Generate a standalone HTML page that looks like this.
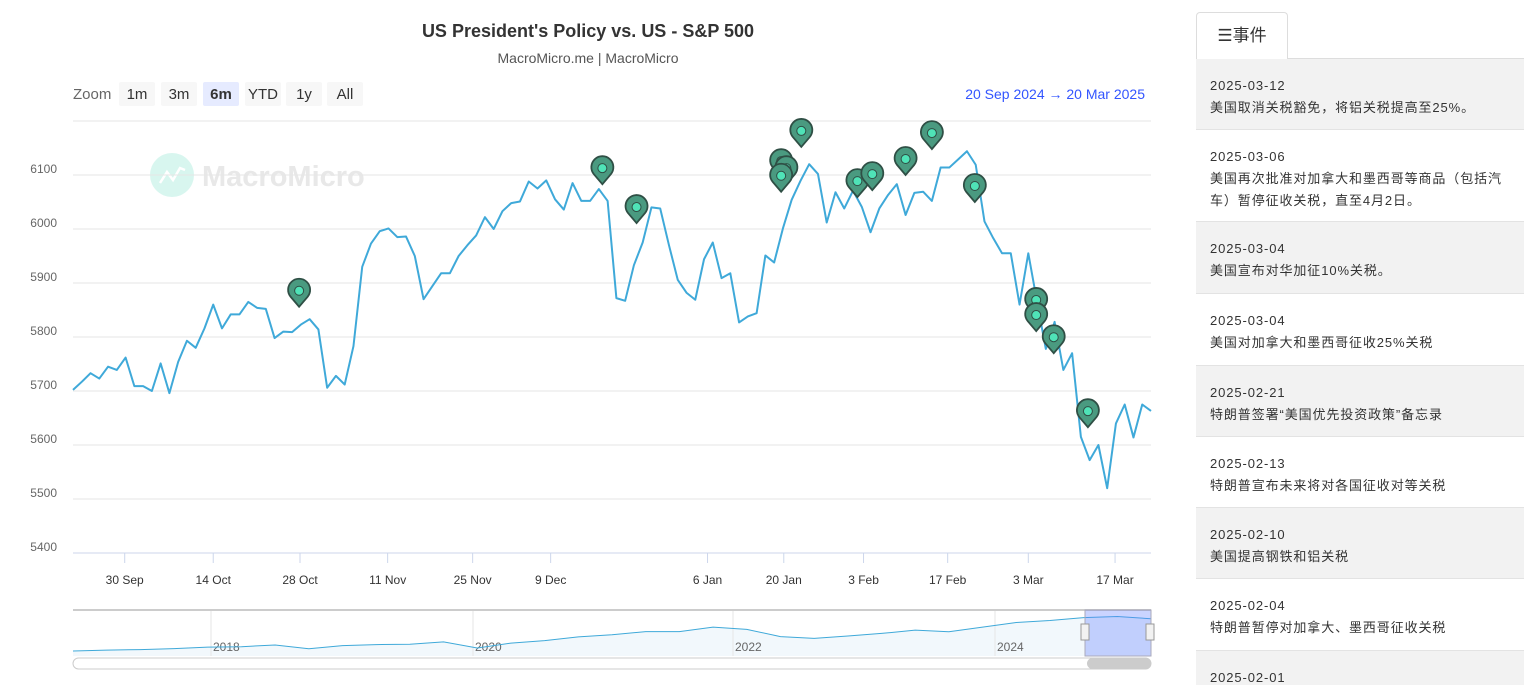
<!DOCTYPE html>
<html><head><meta charset="utf-8">
<style>
html,body{margin:0;width:1524px;height:685px;overflow:hidden;background:#fff;font-family:"Liberation Sans","Noto Sans CJK SC",sans-serif;}
#chart{position:absolute;left:0;top:0;}
#panel{position:absolute;left:1196px;top:0;width:328px;height:685px;overflow:hidden;}
.tab{position:absolute;left:0;top:12px;width:90px;height:46px;border:1px solid #ddd;border-bottom:none;border-radius:4px 4px 0 0;background:#fff;font-size:17px;color:#333;line-height:46px;text-align:center;}
.line{position:absolute;left:0;top:58px;width:328px;border-top:1px solid #ddd;}
.item{position:absolute;left:0;width:328px;border-bottom:1px solid #e3e3e3;box-sizing:border-box;padding:16px 14px 0 14px;font-size:13px;color:#333;line-height:22px;letter-spacing:0.9px;overflow:hidden;}
.item.g{background:#f2f2f2;}
</style></head><body>
<svg id="chart" width="1190" height="685" font-family="Liberation Sans, sans-serif"></svg>
<div id="panel">
<div class="line"></div>
<div class="tab">☰事件</div>
<div class="item g" style="top:59px;height:71px">2025-03-12<br>美国取消关税豁免，将铝关税提高至25%。</div>
<div class="item" style="top:130px;height:92px">2025-03-06<br>美国再次批准对加拿大和墨西哥等商品（包括汽车）暂停征收关税，直至4月2日。</div>
<div class="item g" style="top:222px;height:72px">2025-03-04<br>美国宣布对华加征10%关税。</div>
<div class="item" style="top:294px;height:72px">2025-03-04<br>美国对加拿大和墨西哥征收25%关税</div>
<div class="item g" style="top:366px;height:71px">2025-02-21<br>特朗普签署“美国优先投资政策”备忘录</div>
<div class="item" style="top:437px;height:71px">2025-02-13<br>特朗普宣布未来将对各国征收对等关税</div>
<div class="item g" style="top:508px;height:71px">2025-02-10<br>美国提高钢铁和铝关税</div>
<div class="item" style="top:579px;height:72px">2025-02-04<br>特朗普暂停对加拿大、墨西哥征收关税</div>
<div class="item g" style="top:651px;height:34px;border-bottom:none">2025-02-01</div>
</div>
<script>
const values=[5702,5717,5733,5723,5745,5739,5762,5709,5709,5700,5751,5696,5754,5793,5780,5816,5860,5816,5842,5842,5865,5854,5852,5798,5810,5809,5823,5833,5814,5706,5728,5712,5783,5930,5973,5996,6001,5985,5986,5950,5870,5894,5918,5918,5950,5970,5988,6022,6000,6033,6048,6051,6088,6075,6090,6055,6036,6085,6052,6052,6074,6052,
5872,5867,5933,5975,6040,6038,5970,5906,5882,5869,5944,5975,5909,5918,5827,5838,5844,5951,5938,6001,6054,6089,6120,6102,6012,6068,6038,6071,6041,5994,6038,6063,6083,6026,6067,6069,6052,6114,6114,6129,6144,6119,6014,5983,5955,5955,5860,5955,5865,5778,5828,5739,5770,5615,5572,5600,5520,5640,5675,5614,5675,5663];
const yTicks=[5400,5500,5600,5700,5800,5900,6000,6100,6200];
const xTickLabels=['30 Sep','14 Oct','28 Oct','11 Nov','25 Nov','9 Dec','6 Jan','20 Jan','3 Feb','17 Feb','3 Mar','17 Mar'];
const xTickIdx=[5.9,16,25.9,35.9,45.6,54.5,72.4,81.1,90.2,99.8,109,118.9];
const eventIdx=[25.8,60.4,64.3,80.8,81.4,80.8,83.1,89.5,91.2,95.0,98.0,102.9,109.9,109.9,111.9,115.8];
const eventVal=[5856,6083,6011,6096,6083,6069,6152,6059,6072,6100,6148,6050,5839,5811,5770,5633];
const navYears=['2018','2020','2022','2024'];
const navValues=[2270,2360,2420,2520,2670,2720,2900,2500,2830,2940,2980,3230,2580,3100,3360,3750,3970,4300,4300,4770,4530,3780,3590,3840,4110,4450,4290,4770,5250,5460,5760,5880,5650];

const S='http://www.w3.org/2000/svg';
const svg=document.getElementById('chart');
function el(t,a,p){const e=document.createElementNS(S,t);for(const k in a)e.setAttribute(k,a[k]);(p||svg).appendChild(e);return e;}
const X0=73,X1=1151;
const x=i=>X0+i*(X1-X0)/(values.length-1);
const y=v=>175+(6100-v)*0.54;

let t=el('text',{x:588,y:37,'text-anchor':'middle','font-size':18,'font-weight':'bold',fill:'#333'});t.textContent="US President's Policy vs. US - S&P 500";

t=el('text',{x:588,y:63,'text-anchor':'middle','font-size':14,fill:'#555'});t.textContent='MacroMicro.me | MacroMicro';

t=el('text',{x:73,y:99,'font-size':15,fill:'#666'});t.textContent='Zoom';

const btns=[['1m',119],['3m',161],['6m',203],['YTD',245],['1y',286],['All',327]];
btns.forEach(b=>{const g=el('g',{});

el('rect',{x:b[1],y:82,width:36,height:24,rx:2,fill:b[0]=='6m'?'#e6ebff':'#f7f7f7'},g);
const tt=el('text',{x:b[1]+18,y:99,'text-anchor':'middle','font-size':15,fill:'#333','font-weight':b[0]=='6m'?'bold':'normal'},g);tt.textContent=b[0];});
t=el('text',{x:1145,y:99,'text-anchor':'end','font-size':14,fill:'#3355ff'});t.textContent='20 Sep 2024  →  20 Mar 2025';
t.setAttribute('xml:space','preserve');

const wm=el('g',{});
el('circle',{cx:172,cy:175,r:22,fill:'#d8f6ef'},wm);
el('polyline',{points:'160,183 167,172 173,180 180,168 185,170',fill:'none',stroke:'#fff','stroke-width':2.5},wm);
const wt=el('text',{x:202,y:186,'font-size':29,'font-weight':'bold',fill:'#e8e8e8'},wm);wt.textContent='MacroMicro';

yTicks.forEach(v=>{const l=el('line',{x1:73,x2:1151,y1:y(v),y2:y(v),stroke:'#e6e6e6'});

if(v<6200){const tx=el('text',{x:57,y:y(v)-2,'text-anchor':'end','font-size':12,fill:'#666'});tx.textContent=v;
}});
el('line',{x1:73,x2:1151,y1:553,y2:553,stroke:'#ccd6eb'});
xTickIdx.forEach((ix,k)=>{const xx=x(ix);el('line',{x1:xx,x2:xx,y1:553,y2:563,stroke:'#ccd6eb'});
const tx=el('text',{x:xx,y:584,'text-anchor':'middle','font-size':12,fill:'#333'});tx.textContent=xTickLabels[k];
});

const p=el('polyline',{points:values.map((v,i)=>x(i)+','+y(v)).join(' '),fill:'none',stroke:'#3fa9d9','stroke-width':2,'stroke-linejoin':'round'});


eventIdx.forEach((ix,k)=>{const cx=x(ix),ty=y(eventVal[k]);const g=el('g',{});

el('path',{d:`M${cx},${ty} L${cx-8.5},${ty-10} A11,11 0 1 1 ${cx+8.5},${ty-10} Z`,fill:'#4a9a80',stroke:'#2f4f45','stroke-width':1.8},g);
el('circle',{cx:cx,cy:ty-16,r:4.5,fill:'#4fe3b7',stroke:'#2f4f45','stroke-width':1},g);});

const nv=el('g',{});
el('rect',{x:73,y:610,width:1078,height:46,fill:'#fff'},nv);
const nx=i=>73+i*(1151-73)/(navValues.length-1);
const ny=v=>651-(v-2270)/104.7;
const npts=navValues.map((v,i)=>nx(i)+','+ny(v)).join(' ');
el('polygon',{points:npts+' 1151,656 73,656',fill:'#f2f8fc'},nv);
[211,473,733,995].forEach((xx,k)=>{el('line',{x1:xx,x2:xx,y1:610,y2:656,stroke:'#e6e6e6'},nv);
const tx=el('text',{x:xx+2,y:651,'font-size':12,fill:'#666'},nv);tx.textContent=navYears[k];});
el('polyline',{points:npts,fill:'none',stroke:'#3fa9d9','stroke-width':1},nv);
el('line',{x1:73,x2:1151,y1:610,y2:610,stroke:'#ccc','stroke-width':2},nv);
el('rect',{x:1085,y:610,width:66,height:46,fill:'rgba(102,133,255,0.35)',stroke:'#aab'},nv);
[1085,1150].forEach(hx=>el('rect',{x:hx-4,y:624,width:8,height:16,fill:'#f2f2f2',stroke:'#999'},nv));
const sb=el('g',{});
el('rect',{x:73,y:658,width:1078,height:11,rx:5.5,fill:'#fff',stroke:'#ccc'},sb);
el('rect',{x:1087,y:658,width:64,height:11,rx:5.5,fill:'#ccc'},sb);
</script>
</body></html>
